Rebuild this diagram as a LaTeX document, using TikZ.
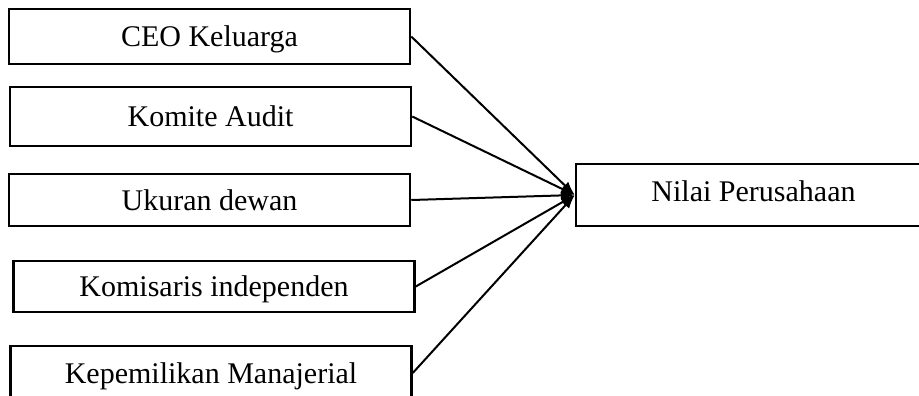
\documentclass[tikz,border=0pt]{standalone}
\usepackage{fontspec}
\setmainfont{Liberation Serif}
\usepackage{tikz}
\usetikzlibrary{arrows.meta}

\begin{document}
\begin{tikzpicture}[x=0.4pt,y=-0.4pt,
    box/.style={draw,line width=1pt,minimum width=160.4pt,inner sep=0pt,text height=8pt,text depth=0pt,font=\fontsize{12pt}{14pt}\selectfont},
    link/.style={line width=0.8pt,-{Latex[length=5.5pt,width=4pt]}}]
            \useasboundingbox (0,0) rectangle (919,395);
            \node (ceo) at (209.5,36.5) [box,minimum height=22pt] {CEO Keluarga};
            \node (komite) at (210.5,116.5) [box,minimum height=23.6pt] {Komite Audit};
            \node (ukuran) at (209.5,200) [box,minimum height=20.8pt] {Ukuran dewan};
            \node (komisaris) at (214,286.5) [box,minimum height=20.4pt] {Komisaris independen};
            \node (kepemilikan) at (211,373) [box,minimum height=21.6pt] {Kepemilikan Manajerial};
            \node (nilai) at (753.5,195) [box,minimum width=142pt,minimum height=24.8pt,text depth=3.2pt] {Nilai Perusahaan};
            \draw[link] (ceo.east) -- (nilai.west);
            \draw[link] (komite.east) -- (nilai.west);
            \draw[link] (ukuran.east) -- (nilai.west);
            \draw[link] (komisaris.east) -- (nilai.west);
            \draw[link] (kepemilikan.east) -- (nilai.west);
        \end{tikzpicture}
\end{document}
